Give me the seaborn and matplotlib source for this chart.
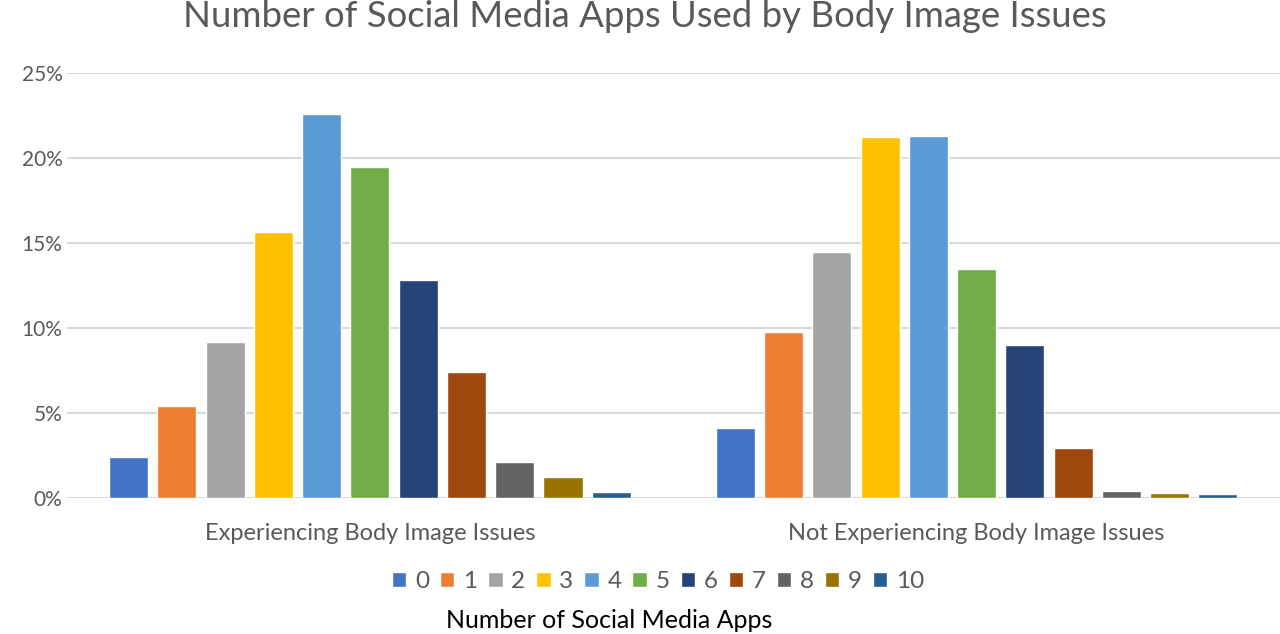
import matplotlib
matplotlib.use("Agg")
import matplotlib.pyplot as plt
import seaborn as sns
import pandas as pd
from matplotlib.ticker import FuncFormatter

groups = ["Experiencing Body Image Issues", "Not Experiencing Body Image Issues"]
app_counts = ["0", "1", "2", "3", "4", "5", "6", "7", "8", "9", "10"]
experiencing = [2.38, 5.40, 9.15, 15.63, 22.58, 19.48, 12.84, 7.38, 2.12, 1.20, 0.35]
not_experiencing = [4.09, 9.78, 14.45, 21.22, 21.28, 13.43, 8.97, 2.93, 0.41, 0.28, 0.24]
colors = ["#4472C4", "#ED7D31", "#A5A5A5", "#FFC000", "#5B9BD5", "#70AD47",
          "#264478", "#9E480E", "#636363", "#997300", "#255E91"]
yticks = [0, 5, 10, 15, 20, 25]

title = "Number of Social Media Apps Used by Body Image Issues"
xlabel = "Number of Social Media Apps"

rows = []
for g, vals in zip(groups, [experiencing, not_experiencing]):
    for a, v in zip(app_counts, vals):
        rows.append({"group": g, "apps": a, "pct": v})
df = pd.DataFrame(rows)

sns.set_theme(style="white")
plt.rcParams["font.family"] = ["Lato", "DejaVu Sans"]

fig = plt.figure(figsize=(12.8, 6.34), dpi=100)
ax = fig.add_axes([0.052, 0.215, 0.948, 0.67])

sns.barplot(data=df, x="group", y="pct", hue="apps", hue_order=app_counts,
            order=groups, palette=colors, width=0.875, gap=0.19,
            saturation=1, ax=ax, errorbar=None)

ax.set_ylim(0, 25)
ax.set_yticks(yticks)
ax.yaxis.set_major_formatter(FuncFormatter(lambda v, p: f"{v:.0f}%"))
ax.set_xlim(-0.5, 1.5)
ax.grid(axis="y", color="#D9D9D9", linewidth=1.5)
ax.set_axisbelow(True)
for s in ax.spines.values():
    s.set_visible(False)
ax.tick_params(axis="y", length=0, labelsize=15, colors="#595959", pad=3)
ax.tick_params(axis="x", length=0, labelsize=17, colors="#595959", pad=18)
ax.set_xlabel("")
ax.set_ylabel("")

sns.move_legend(ax, "center", bbox_to_anchor=(0.514, 0.083),
                bbox_transform=fig.transFigure, ncol=11, frameon=False,
                title=None, fontsize=17.5, handlelength=0.6, handleheight=0.6,
                handletextpad=0.35, columnspacing=0.45, labelcolor="#595959")

fig.text(0.476, 0.021, xlabel, ha="center", va="center", fontsize=18, color="black")
fig.text(0.504, 0.974, title, ha="center", va="center", fontsize=26.3, color="#595959")

fig.savefig("out.png", dpi=100)
